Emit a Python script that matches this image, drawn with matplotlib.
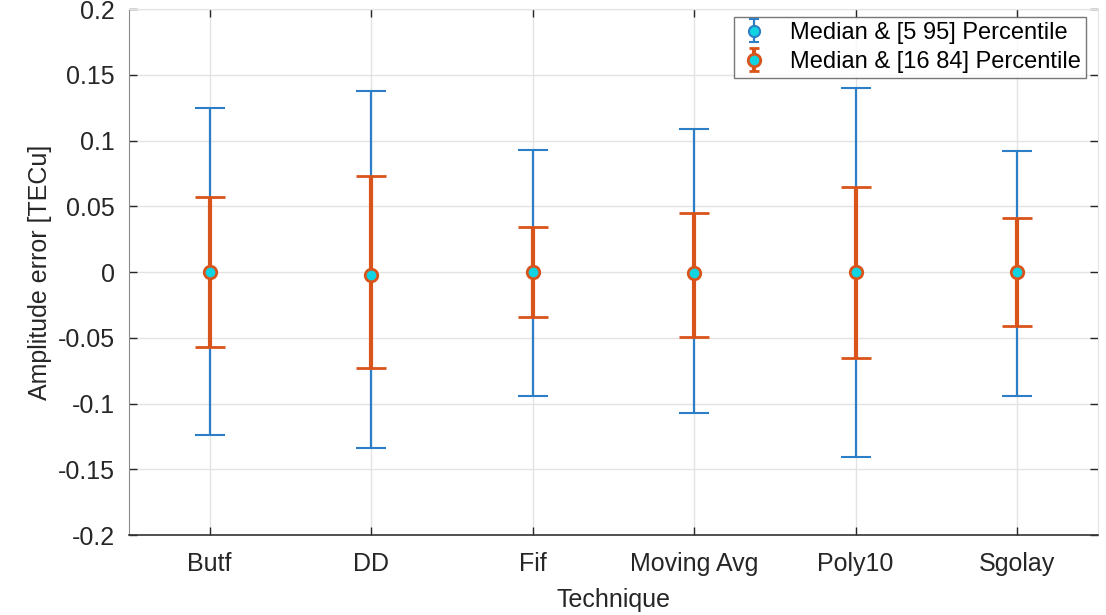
import matplotlib.pyplot as plt
from matplotlib.lines import Line2D
import numpy as np

# amplitude error statistics per detrending technique (TECu)
techniques = ['Butf', 'DD', 'Fif', 'Moving Avg', 'Poly10', 'Sgolay']
median = [0.0, -0.002, 0.0, -0.001, 0.0, 0.0]
p5 = [-0.124, -0.134, -0.094, -0.107, -0.141, -0.094]
p95 = [0.125, 0.138, 0.093, 0.109, 0.140, 0.092]
p16 = [-0.057, -0.073, -0.034, -0.049, -0.065, -0.041]
p84 = [0.057, 0.073, 0.034, 0.045, 0.065, 0.041]

plt.rcParams['font.family'] = ['Liberation Sans', 'DejaVu Sans']

blue = '#2c7fc6'
orange = '#d9541a'
cyan = '#10d4e2'

x = np.arange(1, len(techniques) + 1)
med = np.array(median)

fig = plt.figure(figsize=(11.06, 6.15), dpi=100)
ax = fig.add_axes([0.1166, 0.130, 0.876, 0.855])

err_wide = [med - np.array(p5), np.array(p95) - med]
err_narrow = [med - np.array(p16), np.array(p84) - med]

ax.errorbar(x, med, yerr=err_wide, fmt='o', color=blue, ecolor=blue,
            elinewidth=1.6, capsize=11, capthick=1.6, markersize=8,
            markerfacecolor=cyan, markeredgecolor=blue, markeredgewidth=1.5,
            label='Median & [5 95] Percentile', zorder=3)
ax.errorbar(x, med, yerr=err_narrow, fmt='o', color=orange, ecolor=orange,
            elinewidth=3, capsize=11, capthick=3, markersize=9,
            markerfacecolor=cyan, markeredgecolor=orange, markeredgewidth=2,
            label='Median & [16 84] Percentile', zorder=4)

ax.set_xlim(0.5, 6.5)
ax.set_ylim(-0.2, 0.2)
ax.set_xticks(x)
ax.set_xticklabels(techniques)
ax.set_yticks(np.arange(-0.2, 0.201, 0.05))
ax.set_yticklabels(['-0.2', '-0.15', '-0.1', '-0.05', '0', '0.05', '0.1', '0.15', '0.2'])
ax.tick_params(direction='in', length=6, width=1, labelsize=18, colors='#262626',
               top=True, right=True)
ax.tick_params(axis='x', pad=12)
ax.tick_params(axis='y', pad=10)
ax.grid(True, color='#e3e3e3', linewidth=1)
ax.set_axisbelow(True)

ax.spines['bottom'].set_color('#333333')
ax.spines['bottom'].set_linewidth(1.2)
ax.spines['left'].set_color('#8a8a8a')
ax.spines['top'].set_color('#e3e3e3')
ax.spines['right'].set_color('#e3e3e3')

ax.set_xlabel('Technique', fontsize=18, color='#262626', labelpad=9)
ax.set_ylabel('Amplitude error [TECu]', fontsize=18, color='#262626', labelpad=4)

lgd = ax.legend(loc='upper right', bbox_to_anchor=(0.9876, 0.985), fontsize=17,
                frameon=True, fancybox=False, edgecolor='#555555',
                handletextpad=0.9, borderpad=0.2, labelspacing=0.3,
                handlelength=1.3, borderaxespad=0)
lgd.get_frame().set_linewidth(1)

# shrink the errorbar caps inside the legend handles
for ln in lgd.findobj(Line2D):
    if ln.get_marker() == '_':
        ln.set_markersize(7)

fig.savefig('out.png', dpi=100)
